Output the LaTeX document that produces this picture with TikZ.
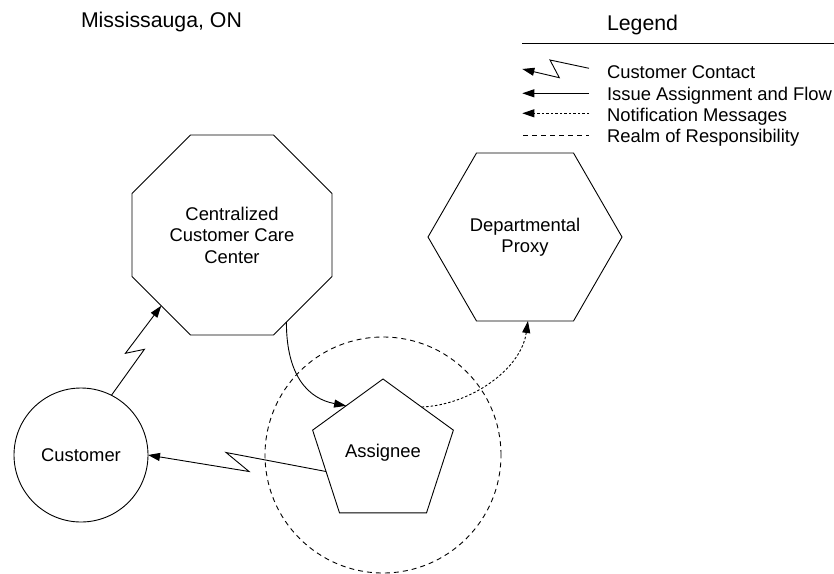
\documentclass[tikz,border=0pt]{standalone}
\usepackage{fontspec}
\setmainfont{Liberation Sans}
\usetikzlibrary{shapes.geometric,arrows.meta}
\begin{document}
\begin{tikzpicture}[x=1pt,y=-1pt,
  line width=0.9pt,
  every node/.style={inner sep=0pt,outer sep=0pt,align=center,
    font=\fontsize{18.4}{21.5}\selectfont},
  shp/.style={draw,fill=white},
  tipr/.style={-{Triangle[length=12pt,width=8pt]}},
  notify/.style={dash pattern=on 2.5pt off 2pt},
  realmline/.style={dash pattern=on 5pt off 4pt},
  legtext/.style={anchor=base west},
  heading/.style={anchor=base west,font=\fontsize{21.3}{24}\selectfont}]
  \path[use as bounding box] (0,0) rectangle (834,573);

  % titles
  \node[heading] (city) at (81,27) {Mississauga, ON};
  \node[heading] (leghead) at (607,30) {Legend};
  \coordinate (rulel) at (522,43);
  \coordinate (ruler) at (834,43);
  \draw (rulel) -- (ruler);

  % realm of responsibility around the assignee
  \node[circle,draw,realmline,minimum size=236pt] (realm) at (383,455) {};

  % main entities
  \node[shp,circle,minimum size=134pt] (cust) at (81,455) {Customer};
  \node[shp,regular polygon,regular polygon sides=8,minimum size=216.5pt]
    (ccc) at (232,235) {Centralized\\Customer Care\\Center};
  \node[shp,regular polygon,regular polygon sides=6,minimum size=194pt]
    (dp) at (525,237) {Departmental\\Proxy};
  \node[regular polygon,regular polygon sides=5,minimum size=148pt,draw]
    (asg) at (383,453) {\raisebox{5pt}{Assignee}};

  % customer contact (zigzag links)
  \draw[tipr] (cust.63) -- ++(33,-46) -- ++(-19,4) -- (ccc.225);
  \draw[tipr] (asg.198) -- ++(-100,-19) -- ++(23,19) -- (cust.east);

  % issue assignment and flow
  \draw[tipr] (ccc.-58) .. controls +(0,55) and +(-37,-7) .. (asg.128);

  % notification message
  \draw[tipr,notify] (asg.50) .. controls +(48,-2) and +(-7,49) .. (dp.-88);

  % legend samples
  \coordinate (cca) at (589,68.3);
  \coordinate (ccb) at (522.3,69);
  \draw[tipr] (cca) -- (550,60) -- (559.3,77.7) -- (ccb);
  \coordinate (iaa) at (589,93.3);
  \coordinate (iab) at (522.3,93.3);
  \draw[tipr] (iaa) -- (iab);
  \coordinate (nma) at (589,113.3);
  \coordinate (nmb) at (522.3,113.3);
  \draw[tipr,notify] (nma) -- (nmb);
  \coordinate (rra) at (523,135);
  \coordinate (rrb) at (589,135);
  \draw[realmline] (rra) -- (rrb);

  \node[legtext] (t1) at (607,78.3) {Customer Contact};
  \node[legtext] (t2) at (607,100) {Issue Assignment and Flow};
  \node[legtext] (t3) at (607,121) {Notification Messages};
  \node[legtext] (t4) at (607,142.5) {Realm of Responsibility};
\end{tikzpicture}
\end{document}
